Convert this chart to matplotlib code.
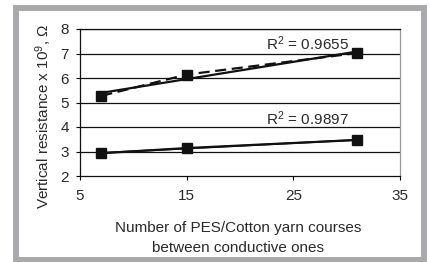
import numpy as np
import matplotlib
matplotlib.use("Agg")
import matplotlib.pyplot as plt
from matplotlib.patches import Rectangle

plt.rcParams['font.family'] = ['Liberation Sans', 'DejaVu Sans']
plt.rcParams['mathtext.fontset'] = 'custom'
plt.rcParams['mathtext.rm'] = 'Liberation Sans'
plt.rcParams['mathtext.it'] = 'Liberation Sans:italic'

# data
courses = [7, 15, 31]
upper = [5.27, 6.14, 7.02]
lower = [2.93, 3.14, 3.47]
r2_labels = ['R$^2$ = 0.9655', 'R$^2$ = 0.9897']
xticks = [5, 15, 25, 35]
yticks = [2, 3, 4, 5, 6, 7, 8]

txt = '#2a2a2a'
fs = 11

fig = plt.figure(figsize=(4.30, 2.62), dpi=100)

# grey frame round the figure
fig.patches.append(Rectangle((16/430, 1 - 259.5/262), 408/430, 252/262,
                             transform=fig.transFigure, fill=False,
                             edgecolor='#a9a9ac', linewidth=4.3))

ax = fig.add_axes([80/430, 1 - 176/262, 320/430, 147/262])
ax.set_xlim(5, 35)
ax.set_ylim(2, 8)
ax.set_xticks(xticks)
ax.set_yticks(yticks)

for y in yticks[1:]:
    ax.axhline(y, color='#111111', lw=0.9, zorder=1)

# upper series: dashed data line + linear trend
x = np.array(courses)
ax.plot(courses, upper, color='#111111', lw=1.6, ls=(0, (5, 2.5)), zorder=3)
p = np.polyfit(x, upper, 1)
ax.plot(x, np.polyval(p, x), color='#111111', lw=1.6, zorder=3)
ax.plot(courses, upper, ls='none', marker='s', ms=7, color='#111111', zorder=4)

# lower series
ax.plot(courses, lower, color='#111111', lw=1.6, zorder=3)
p2 = np.polyfit(x, lower, 1)
ax.plot(x, np.polyval(p2, x), color='#111111', lw=1.3, zorder=3)
ax.plot(courses, lower, ls='none', marker='s', ms=7, color='#111111', zorder=4)

ax.text(26.3, 7.4, r2_labels[0], ha='center', va='center', fontsize=fs, color=txt)
ax.text(26.3, 4.33, r2_labels[1], ha='center', va='center', fontsize=fs, color=txt)

for s in ['left', 'bottom']:
    ax.spines[s].set_color('#111111')
    ax.spines[s].set_linewidth(0.9)
ax.spines['right'].set_color('#999999')
ax.spines['top'].set_color('#111111')
ax.spines['right'].set_linewidth(0.9)
ax.spines['top'].set_linewidth(0.9)

ax.tick_params(axis='y', length=3, width=0.8, pad=5, labelsize=fs, labelcolor=txt)
ax.tick_params(axis='x', length=3, width=0.8, pad=6, labelsize=fs, labelcolor=txt)

fig.text(238/430, 1 - 228/262, 'Number of PES/Cotton yarn courses',
         ha='center', va='center', fontsize=fs, color=txt)
fig.text(238/430, 1 - 248/262, 'between conductive ones',
         ha='center', va='center', fontsize=fs, color=txt)
fig.text(44/430, 1 - 116/262, 'Vertical resistance x 10$^9$, Ω',
         ha='center', va='center', rotation=90, fontsize=fs, color=txt)

fig.savefig('out.png', dpi=100)
